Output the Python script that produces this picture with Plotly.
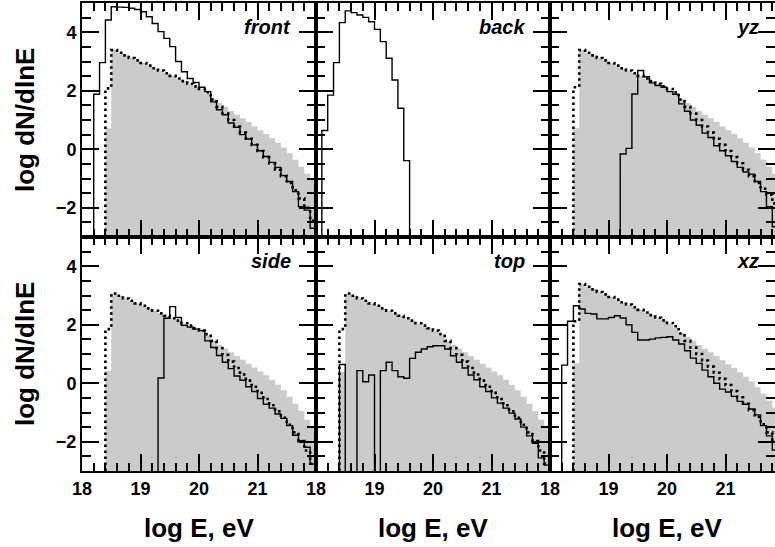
import plotly.graph_objects as go

BIN = 0.1
EMPTY = -4.0  # empty bin (log of zero) -> below axis

# ---------------- data (bin start, values per 0.1 bin of log E) ----------------
front_gray_start = 18.4
front_gray = [0.72, 3.39, 3.30, 3.21, 3.12, 3.04, 2.95, 2.86, 2.77, 2.69, 2.60, 2.51, 2.42, 2.33,
              2.24, 2.15, 2.04, 1.90, 1.72, 1.58, 1.45, 1.31, 1.18, 1.06, 0.93, 0.79, 0.65, 0.52,
              0.38, 0.22, 0.06, -0.14, -0.36, -0.60, -0.84, -1.02]
front_dot_start = 18.4
front_dot = [2.08, 3.39, 3.30, 3.21, 3.12, 3.04, 2.95, 2.86, 2.77, 2.69, 2.60, 2.51, 2.42, 2.33,
             2.24, 2.15, 2.06, 1.95, 1.70, 1.45, 1.22, 1.00, 0.78, 0.57, 0.36, 0.15, -0.06, -0.27,
             -0.48, -0.70, -0.92, -1.15, -1.40, -1.68, -2.00, -2.45]
front_solid_start = 18.2
front_solid = [1.88, 2.96, 4.42, 4.87, 4.86, 4.85, 4.82, 4.78, 4.70, 4.53, 4.30, 4.02, 3.79, 3.51,
               3.00, 2.65, 2.42, 2.28, 2.12, 1.97, 1.62, 1.35, 1.18, 0.90, 0.75, 0.50, 0.35, 0.15,
               -0.05, -0.25, -0.45, -0.62, -0.90, -1.10, -1.45, -1.96, -2.08, -2.70]

back_solid_start = 18.1
back_solid = [0.64, 1.85, 2.96, 4.33, 4.73, 4.67, 4.59, 4.51, 4.36, 4.10, 3.68, 3.11, 2.37, 1.40, -0.39]

yz_gray_start = 18.4
yz_gray = [0.72, 3.39, 3.30, 3.21, 3.12, 3.04, 2.95, 2.86, 2.77, 2.69, 2.60, 2.51, 2.42, 2.33,
           2.24, 2.15, 2.04, 1.90, 1.72, 1.58, 1.45, 1.31, 1.18, 1.06, 0.93, 0.79, 0.65, 0.52,
           0.38, 0.22, 0.06, -0.14, -0.36, -0.60, -0.84, -1.02]
yz_dot_start = 18.4
yz_dot = [2.12, 3.39, 3.30, 3.21, 3.12, 3.04, 2.95, 2.86, 2.77, 2.69, 2.60, 2.51, 2.42, 2.33,
          2.24, 2.15, 2.06, 1.95, 1.70, 1.45, 1.22, 1.00, 0.78, 0.57, 0.36, 0.15, -0.06, -0.27,
          -0.48, -0.70, -0.92, -1.15, -1.35, -1.55, -1.85, -2.20]
yz_solid_start = 19.2
yz_solid = [-0.16, 0.03, 1.89, 2.69, 2.48, 2.27, 2.18, 2.12, 1.97, 1.88, 1.55, 1.30, 1.00, 0.82,
            0.55, 0.40, 0.12, -0.05, -0.22, -0.42, -0.62, -0.78, -0.85, -1.10, -1.45, -1.96,
            -2.65, -2.80]

side_gray_start = 18.4
side_gray = [0.43, 3.07, 2.99, 2.90, 2.82, 2.73, 2.65, 2.56, 2.48, 2.39, 2.31, 2.22, 2.14, 2.05,
             1.97, 1.88, 1.78, 1.62, 1.45, 1.32, 1.19, 1.06, 0.93, 0.80, 0.67, 0.54, 0.40, 0.27,
             0.12, -0.05, -0.24, -0.46, -0.70, -0.95, -1.25, -1.45]
side_dot_start = 18.4
side_dot = [1.85, 3.07, 2.99, 2.90, 2.82, 2.73, 2.65, 2.56, 2.48, 2.39, 2.31, 2.22, 2.14, 2.05,
            1.97, 1.88, 1.80, 1.68, 1.45, 1.20, 0.97, 0.74, 0.52, 0.30, 0.09, -0.12, -0.33, -0.54,
            -0.75, -0.96, -1.18, -1.42, -1.68, -1.98, -2.30, -2.75]
side_solid_start = 19.3
side_solid = [0.18, 2.22, 2.62, 2.25, 1.98, 1.92, 1.85, 1.80, 1.45, 1.22, 0.95, 0.72, 0.50, 0.25,
              0.10, -0.12, -0.28, -0.52, -0.72, -0.85, -1.05, -1.20, -1.45, -1.78, -1.96, -2.19,
              -2.76]

top_gray_start = 18.4
top_gray = [0.39, 3.07, 2.99, 2.90, 2.82, 2.73, 2.65, 2.56, 2.48, 2.39, 2.31, 2.22, 2.14, 2.05,
            1.97, 1.88, 1.78, 1.62, 1.45, 1.32, 1.19, 1.06, 0.93, 0.80, 0.67, 0.54, 0.40, 0.27,
            0.12, -0.05, -0.24, -0.46, -0.70, -0.95, -1.25, -1.45]
top_dot_start = 18.4
top_dot = [1.85, 3.07, 2.99, 2.90, 2.82, 2.73, 2.65, 2.56, 2.48, 2.39, 2.31, 2.22, 2.14, 2.05,
           1.97, 1.88, 1.80, 1.68, 1.45, 1.20, 0.97, 0.74, 0.52, 0.30, 0.09, -0.12, -0.33, -0.54,
           -0.75, -0.96, -1.18, -1.42, -1.68, -1.98, -2.30, -2.75]
top_solid_start = 18.4
top_solid = [0.64, EMPTY, EMPTY, 0.43, 0.05, 0.28, EMPTY, 0.43, 0.72, 0.43, 0.22, 0.17, 0.85, 1.06,
             1.17, 1.25, 1.28, 1.28, 1.17, 0.94, 0.72, 0.52, 0.28, 0.12, -0.12, -0.28, -0.50,
             -0.68, -0.85, -1.02, -1.22, -1.50, -1.80, -2.05, -2.55, -2.80]

xz_gray_start = 18.4
xz_gray = [0.68, 3.39, 3.30, 3.21, 3.12, 3.04, 2.95, 2.86, 2.77, 2.69, 2.60, 2.51, 2.42, 2.33,
           2.24, 2.15, 2.04, 1.90, 1.72, 1.58, 1.45, 1.31, 1.18, 1.06, 0.93, 0.79, 0.65, 0.52,
           0.38, 0.22, 0.06, -0.14, -0.36, -0.60, -0.84, -1.02]
xz_dot_start = 18.4
xz_dot = [2.12, 3.39, 3.30, 3.21, 3.12, 3.04, 2.95, 2.86, 2.77, 2.69, 2.60, 2.51, 2.42, 2.33,
          2.24, 2.15, 2.06, 1.95, 1.70, 1.45, 1.22, 1.00, 0.78, 0.57, 0.36, 0.15, -0.06, -0.27,
          -0.48, -0.70, -0.92, -1.15, -1.40, -1.68, -2.00, -2.45]
xz_solid_start = 18.2
xz_solid = [0.62, 2.12, 2.65, 2.54, 2.39, 2.37, 2.20, 2.20, 2.25, 2.31, 2.23, 2.00, 1.74, 1.48,
            1.48, 1.51, 1.55, 1.57, 1.59, 1.48, 1.34, 1.11, 0.86, 0.68, 0.45, 0.22, 0.00, -0.20,
            -0.30, -0.45, -0.62, -0.72, -0.88, -1.08, -1.45, -1.80, -2.28, -2.50]

panel_labels = ["front", "back", "yz", "side", "top", "xz"]
x_tick_vals = [18, 19, 20, 21]
y_title = "log dN/dlnE"
x_title = "log E, eV"
Y_MIN, Y_MAX = -3, 5

panels = [
    (front_gray_start, front_gray, front_dot_start, front_dot, front_solid_start, front_solid),
    (None, None, None, None, back_solid_start, back_solid),
    (yz_gray_start, yz_gray, yz_dot_start, yz_dot, yz_solid_start, yz_solid),
    (side_gray_start, side_gray, side_dot_start, side_dot, side_solid_start, side_solid),
    (top_gray_start, top_gray, top_dot_start, top_dot, top_solid_start, top_solid),
    (xz_gray_start, xz_gray, xz_dot_start, xz_dot, xz_solid_start, xz_solid),
]

# ---------------- layout geometry (pixels) ----------------
W, H = 775, 547
PX_PER_UNIT = 58.5
col_left = [82, 316, 550]
col_right = [316, 550, 775]
row_top = [3, 237]
row_bot = [237, 471]


def step_xy(start, vals):
    n = len(vals)
    edges = [round(start + i * BIN, 4) for i in range(n + 1)]
    x = [edges[0]] + edges[:n] + [edges[n], edges[n]]
    y = [Y_MIN] + list(vals) + [vals[-1], Y_MIN]
    return x, y


fig = go.Figure()
tickfont = dict(family="Liberation Sans, Arial, sans-serif", size=18, color="black", weight="bold")

for i, (gs, gv, ds, dv, ss, sv) in enumerate(panels):
    r, c = divmod(i, 3)
    k = i + 1
    xa = "x" if k == 1 else f"x{k}"
    ya = "y" if k == 1 else f"y{k}"
    if gv is not None:
        x, y = step_xy(gs, gv)
        fig.add_trace(go.Scatter(x=x, y=y, mode="lines", line=dict(shape="hv", width=0),
                                 fill="toself", fillcolor="#cbcbcb", xaxis=xa, yaxis=ya,
                                 hoverinfo="skip"))
    if dv is not None:
        x, y = step_xy(ds, dv)
        fig.add_trace(go.Scatter(x=x, y=y, mode="lines",
                                 line=dict(shape="hv", width=2.6, color="black", dash="2.6px,3.4px"),
                                 xaxis=xa, yaxis=ya))
    x, y = step_xy(ss, sv)
    fig.add_trace(go.Scatter(x=x, y=y, mode="lines",
                             line=dict(shape="hv", width=1.4, color="black"),
                             xaxis=xa, yaxis=ya))

    xr_hi = 18 + (col_right[c] - col_left[c]) / PX_PER_UNIT
    xdom = [col_left[c] / W, col_right[c] / W]
    ydom = [1 - row_bot[r] / H, 1 - row_top[r] / H]
    axkey = "xaxis" if k == 1 else f"xaxis{k}"
    aykey = "yaxis" if k == 1 else f"yaxis{k}"
    fig.layout[axkey] = dict(
        domain=xdom, range=[18, xr_hi], anchor=ya, showgrid=False, zeroline=False,
        automargin=False,
        showline=True, mirror="allticks", linecolor="black", linewidth=2,
        ticks="inside", ticklen=17, tickwidth=1.5, tickcolor="black",
        tickmode="array", tickvals=x_tick_vals, showticklabels=(r == 1),
        tickfont=tickfont, fixedrange=True,
        minor=dict(dtick=0.2, tick0=18, ticks="inside", ticklen=8, tickwidth=1.5,
                   tickcolor="black", showgrid=False),
    )
    fig.layout[aykey] = dict(
        domain=ydom, range=[Y_MIN, Y_MAX], anchor=xa, showgrid=False, zeroline=False,
        automargin=False,
        showline=True, mirror="allticks", linecolor="black", linewidth=2,
        ticks="inside", ticklen=17, tickwidth=1.5, tickcolor="black",
        tickmode="linear", tick0=0, dtick=2, showticklabels=(c == 0),
        tickfont=tickfont, fixedrange=True,
        minor=dict(dtick=0.5, tick0=0, ticks="inside", ticklen=9, tickwidth=1.5,
                   tickcolor="black", showgrid=False),
    )
    # panel label
    fig.add_annotation(
        x=22 - 23 / PX_PER_UNIT, y=4.0, xref=xa, yref=ya, text=f"<b><i>{panel_labels[i]}</i></b>",
        showarrow=False, xanchor="right", yanchor="bottom", yshift=-8,
        font=dict(family="Liberation Sans, Arial, sans-serif", size=20, color="black"),
    )

titlefont = dict(family="Liberation Sans, Arial, sans-serif", size=26, color="black")
for r in range(2):
    yc = (row_top[r] + row_bot[r]) / 2
    fig.add_annotation(x=25 / W, y=1 - yc / H, xref="paper", yref="paper",
                       text=f"<b>{y_title}</b>", textangle=-90, showarrow=False,
                       xanchor="center", yanchor="middle", font=titlefont)
for c in range(3):
    xc = col_left[c] + 117
    fig.add_annotation(x=xc / W, y=1 - 528 / H, xref="paper", yref="paper",
                       text=f"<b>{x_title}</b>", showarrow=False,
                       xanchor="center", yanchor="middle", font=titlefont)

fig.update_layout(width=W, height=H, margin=dict(l=0, r=0, t=0, b=0, autoexpand=False),
                  plot_bgcolor="white", paper_bgcolor="white", showlegend=False)

fig.write_html("out.html", config={"displayModeBar": False},
               post_script="document.body.style.margin='0';document.body.style.overflow='hidden';")
